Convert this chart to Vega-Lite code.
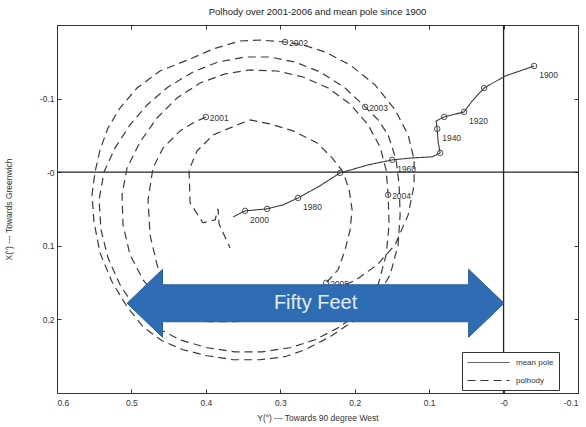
{
  "$schema": "https://vega.github.io/schema/vega-lite/v6.json",
  "width": 521,
  "height": 368,
  "autosize": {"type": "none"},
  "padding": {"left": 57, "top": 25, "right": 8, "bottom": 34},
  "title": {"text": "Polhody over 2001-2006 and mean pole since 1900", "fontSize": 9.5, "fontWeight": "normal", "font": "Liberation Sans", "color": "#222", "offset": 8, "anchor": "middle"},
  "config": {
    "view": {"stroke": "#333", "strokeWidth": 1},
    "font": "Liberation Sans",
    "axis": {"labelFont": "Liberation Sans", "labelFontSize": 8.5, "labelColor": "#333", "titleFont": "Liberation Sans", "titleFontSize": 8.5, "titleFontWeight": "normal", "titleColor": "#333", "domainColor": "#333", "tickColor": "#333", "grid": false, "tickSize": -4},
    "legend": {"orient": "none", "legendX": 405, "legendY": 327, "strokeColor": "#333", "fillColor": "white", "padding": 5, "cornerRadius": 0, "labelFont": "Liberation Sans", "labelFontSize": 8, "labelColor": "#333", "symbolType": "M-1,0L7.4,0", "symbolSize": 100, "symbolStrokeWidth": 1, "symbolStrokeColor": "#333", "rowPadding": 8, "labelOffset": 38, "title": null,
      "labelExpr": "datum.label + '\u00a0\u00a0\u00a0\u00a0\u00a0\u00a0\u00a0\u00a0\u00a0\u00a0\u00a0\u00a0\u00a0\u00a0'"}
  },
  "datasets": {
    "zero": [{"v": 0}],
    "polhody": [
      {"t": 1, "x": 0.400, "y": -0.075, "yr": "2001", "series": "polhody"},
      {"t": 2, "x": 0.4172, "y": -0.0669, "series": "polhody"},
      {"t": 3, "x": 0.4347, "y": -0.0561, "series": "polhody"},
      {"t": 4, "x": 0.4575, "y": -0.0330, "series": "polhody"},
      {"t": 5, "x": 0.4710, "y": -0.0058, "series": "polhody"},
      {"t": 6, "x": 0.4777, "y": 0.0376, "series": "polhody"},
      {"t": 7, "x": 0.4750, "y": 0.0851, "series": "polhody"},
      {"t": 8, "x": 0.4656, "y": 0.1258, "series": "polhody"},
      {"t": 9, "x": 0.4535, "y": 0.1598, "series": "polhody"},
      {"t": 10, "x": 0.4320, "y": 0.1774, "series": "polhody"},
      {"t": 11, "x": 0.4011, "y": 0.1869, "series": "polhody"},
      {"t": 12, "x": 0.3608, "y": 0.1897, "series": "polhody"},
      {"t": 13, "x": 0.3204, "y": 0.1869, "series": "polhody"},
      {"t": 14, "x": 0.2734, "y": 0.1761, "series": "polhody"},
      {"t": 15, "x": 0.2331, "y": 0.1625, "series": "polhody"},
      {"t": 16, "x": 0.1981, "y": 0.1462, "series": "polhody"},
      {"t": 17, "x": 0.1699, "y": 0.1258, "series": "polhody"},
      {"t": 18, "x": 0.1457, "y": 0.0987, "series": "polhody"},
      {"t": 19, "x": 0.1282, "y": 0.0580, "series": "polhody"},
      {"t": 20, "x": 0.1202, "y": 0.0172, "series": "polhody"},
      {"t": 21, "x": 0.1202, "y": -0.0167, "series": "polhody"},
      {"t": 22, "x": 0.1282, "y": -0.0506, "series": "polhody"},
      {"t": 23, "x": 0.1457, "y": -0.0846, "series": "polhody"},
      {"t": 24, "x": 0.1726, "y": -0.1185, "series": "polhody"},
      {"t": 25, "x": 0.2062, "y": -0.1457, "series": "polhody"},
      {"t": 26, "x": 0.2398, "y": -0.1633, "series": "polhody"},
      {"t": 27, "x": 0.2694, "y": -0.1728, "series": "polhody"},
      {"t": 28, "x": 0.2935, "y": -0.1769, "yr": "2002", "series": "polhody"},
      {"t": 29, "x": 0.3272, "y": -0.1796, "series": "polhody"},
      {"t": 30, "x": 0.3540, "y": -0.1783, "series": "polhody"},
      {"t": 31, "x": 0.3903, "y": -0.1674, "series": "polhody"},
      {"t": 32, "x": 0.4212, "y": -0.1538, "series": "polhody"},
      {"t": 33, "x": 0.4616, "y": -0.1375, "series": "polhody"},
      {"t": 34, "x": 0.4925, "y": -0.1144, "series": "polhody"},
      {"t": 35, "x": 0.5153, "y": -0.0873, "series": "polhody"},
      {"t": 36, "x": 0.5315, "y": -0.0601, "series": "polhody"},
      {"t": 37, "x": 0.5422, "y": -0.0303, "series": "polhody"},
      {"t": 38, "x": 0.5489, "y": -0.0004, "series": "polhody"},
      {"t": 39, "x": 0.5530, "y": 0.0308, "series": "polhody"},
      {"t": 40, "x": 0.5503, "y": 0.0675, "series": "polhody"},
      {"t": 41, "x": 0.5422, "y": 0.1096, "series": "polhody"},
      {"t": 42, "x": 0.5261, "y": 0.1489, "series": "polhody"},
      {"t": 43, "x": 0.5059, "y": 0.1829, "series": "polhody"},
      {"t": 44, "x": 0.4844, "y": 0.2100, "series": "polhody"},
      {"t": 45, "x": 0.4589, "y": 0.2290, "series": "polhody"},
      {"t": 46, "x": 0.4306, "y": 0.2412, "series": "polhody"},
      {"t": 47, "x": 0.3984, "y": 0.2494, "series": "polhody"},
      {"t": 48, "x": 0.3634, "y": 0.2548, "series": "polhody"},
      {"t": 49, "x": 0.3272, "y": 0.2548, "series": "polhody"},
      {"t": 50, "x": 0.2935, "y": 0.2507, "series": "polhody"},
      {"t": 51, "x": 0.2667, "y": 0.2412, "series": "polhody"},
      {"t": 52, "x": 0.2331, "y": 0.2236, "series": "polhody"},
      {"t": 53, "x": 0.1995, "y": 0.2005, "series": "polhody"},
      {"t": 54, "x": 0.1726, "y": 0.1734, "series": "polhody"},
      {"t": 55, "x": 0.1524, "y": 0.1394, "series": "polhody"},
      {"t": 56, "x": 0.1417, "y": 0.0987, "series": "polhody"},
      {"t": 57, "x": 0.1390, "y": 0.0580, "series": "polhody"},
      {"t": 58, "x": 0.1403, "y": 0.0172, "series": "polhody"},
      {"t": 59, "x": 0.1444, "y": -0.0167, "series": "polhody"},
      {"t": 60, "x": 0.1551, "y": -0.0506, "series": "polhody"},
      {"t": 61, "x": 0.1685, "y": -0.0710, "series": "polhody"},
      {"t": 62, "x": 0.1860, "y": -0.0887, "yr": "2003", "series": "polhody"},
      {"t": 63, "x": 0.2129, "y": -0.1144, "series": "polhody"},
      {"t": 64, "x": 0.2465, "y": -0.1362, "series": "polhody"},
      {"t": 65, "x": 0.2801, "y": -0.1497, "series": "polhody"},
      {"t": 66, "x": 0.3137, "y": -0.1565, "series": "polhody"},
      {"t": 67, "x": 0.3473, "y": -0.1565, "series": "polhody"},
      {"t": 68, "x": 0.3836, "y": -0.1497, "series": "polhody"},
      {"t": 69, "x": 0.4172, "y": -0.1362, "series": "polhody"},
      {"t": 70, "x": 0.4508, "y": -0.1158, "series": "polhody"},
      {"t": 71, "x": 0.4790, "y": -0.0914, "series": "polhody"},
      {"t": 72, "x": 0.5019, "y": -0.0642, "series": "polhody"},
      {"t": 73, "x": 0.5220, "y": -0.0330, "series": "polhody"},
      {"t": 74, "x": 0.5368, "y": -0.0004, "series": "polhody"},
      {"t": 75, "x": 0.5435, "y": 0.0376, "series": "polhody"},
      {"t": 76, "x": 0.5409, "y": 0.0783, "series": "polhody"},
      {"t": 77, "x": 0.5315, "y": 0.1163, "series": "polhody"},
      {"t": 78, "x": 0.5153, "y": 0.1530, "series": "polhody"},
      {"t": 79, "x": 0.4952, "y": 0.1842, "series": "polhody"},
      {"t": 80, "x": 0.4683, "y": 0.2100, "series": "polhody"},
      {"t": 81, "x": 0.4347, "y": 0.2277, "series": "polhody"},
      {"t": 82, "x": 0.3984, "y": 0.2385, "series": "polhody"},
      {"t": 83, "x": 0.3608, "y": 0.2440, "series": "polhody"},
      {"t": 84, "x": 0.3245, "y": 0.2440, "series": "polhody"},
      {"t": 85, "x": 0.2868, "y": 0.2385, "series": "polhody"},
      {"t": 86, "x": 0.2532, "y": 0.2277, "series": "polhody"},
      {"t": 87, "x": 0.2196, "y": 0.2100, "series": "polhody"},
      {"t": 88, "x": 0.1901, "y": 0.1869, "series": "polhody"},
      {"t": 89, "x": 0.1685, "y": 0.1530, "series": "polhody"},
      {"t": 90, "x": 0.1578, "y": 0.1123, "series": "polhody"},
      {"t": 91, "x": 0.1538, "y": 0.0715, "series": "polhody"},
      {"t": 92, "x": 0.1551, "y": 0.0308, "yr": "2004", "series": "polhody"},
      {"t": 93, "x": 0.1578, "y": -0.0031, "series": "polhody"},
      {"t": 94, "x": 0.1659, "y": -0.0343, "series": "polhody"},
      {"t": 95, "x": 0.1820, "y": -0.0642, "series": "polhody"},
      {"t": 96, "x": 0.2062, "y": -0.0927, "series": "polhody"},
      {"t": 97, "x": 0.2358, "y": -0.1144, "series": "polhody"},
      {"t": 98, "x": 0.2694, "y": -0.1294, "series": "polhody"},
      {"t": 99, "x": 0.3043, "y": -0.1375, "series": "polhody"},
      {"t": 100, "x": 0.3406, "y": -0.1389, "series": "polhody"},
      {"t": 101, "x": 0.3742, "y": -0.1335, "series": "polhody"},
      {"t": 102, "x": 0.4078, "y": -0.1212, "series": "polhody"},
      {"t": 103, "x": 0.4387, "y": -0.1009, "series": "polhody"},
      {"t": 104, "x": 0.4656, "y": -0.0737, "series": "polhody"},
      {"t": 105, "x": 0.4884, "y": -0.0411, "series": "polhody"},
      {"t": 106, "x": 0.5059, "y": -0.0058, "series": "polhody"},
      {"t": 107, "x": 0.5126, "y": 0.0308, "series": "polhody"},
      {"t": 108, "x": 0.5113, "y": 0.0715, "series": "polhody"},
      {"t": 109, "x": 0.5019, "y": 0.1123, "series": "polhody"},
      {"t": 110, "x": 0.4844, "y": 0.1462, "series": "polhody"},
      {"t": 111, "x": 0.4616, "y": 0.1734, "series": "polhody"},
      {"t": 112, "x": 0.4320, "y": 0.1937, "series": "polhody"},
      {"t": 113, "x": 0.3970, "y": 0.2032, "series": "polhody"},
      {"t": 114, "x": 0.3608, "y": 0.2032, "series": "polhody"},
      {"t": 115, "x": 0.3245, "y": 0.1978, "series": "polhody"},
      {"t": 116, "x": 0.2868, "y": 0.1802, "series": "polhody"},
      {"t": 117, "x": 0.2599, "y": 0.1639, "series": "polhody"},
      {"t": 118, "x": 0.2384, "y": 0.1503, "yr": "2005", "series": "polhody"},
      {"t": 119, "x": 0.2223, "y": 0.1326, "series": "polhody"},
      {"t": 120, "x": 0.2129, "y": 0.1055, "series": "polhody"},
      {"t": 121, "x": 0.2062, "y": 0.0783, "series": "polhody"},
      {"t": 122, "x": 0.2035, "y": 0.0512, "series": "polhody"},
      {"t": 123, "x": 0.2075, "y": 0.0240, "series": "polhody"},
      {"t": 124, "x": 0.2156, "y": -0.0004, "series": "polhody"},
      {"t": 125, "x": 0.2304, "y": -0.0194, "series": "polhody"},
      {"t": 126, "x": 0.2505, "y": -0.0398, "series": "polhody"},
      {"t": 127, "x": 0.2828, "y": -0.0561, "series": "polhody"},
      {"t": 128, "x": 0.3137, "y": -0.0656, "series": "polhody"},
      {"t": 129, "x": 0.3406, "y": -0.0710, "series": "polhody"},
      {"t": 130, "x": 0.3581, "y": -0.0641, "series": "polhody"},
      {"t": 131, "x": 0.3903, "y": -0.0506, "series": "polhody"},
      {"t": 132, "x": 0.4118, "y": -0.0289, "series": "polhody"},
      {"t": 133, "x": 0.4226, "y": -0.0031, "series": "polhody"},
      {"t": 134, "x": 0.4212, "y": 0.0417, "series": "polhody"},
      {"t": 135, "x": 0.4038, "y": 0.0688, "series": "polhody"},
      {"t": 136, "x": 0.3876, "y": 0.0648, "series": "polhody"},
      {"t": 137, "x": 0.3836, "y": 0.0498, "series": "polhody"},
      {"t": 138, "x": 0.3823, "y": 0.0702, "series": "polhody"},
      {"t": 139, "x": 0.3675, "y": 0.1028, "series": "polhody"}
    ],
    "meanpole": [
      {"year": 1900, "x": -0.0411, "y": -0.1443, "series": "mean pole"},
      {"year": 1905, "x": -0.0022, "y": -0.1307, "series": "mean pole"},
      {"year": 1910, "x": 0.0261, "y": -0.1144, "series": "mean pole"},
      {"year": 1915, "x": 0.0422, "y": -0.0968, "series": "mean pole"},
      {"year": 1920, "x": 0.0530, "y": -0.0819, "series": "mean pole"},
      {"year": 1925, "x": 0.0691, "y": -0.0778, "series": "mean pole"},
      {"year": 1930, "x": 0.0798, "y": -0.0751, "series": "mean pole"},
      {"year": 1935, "x": 0.0906, "y": -0.0696, "series": "mean pole"},
      {"year": 1940, "x": 0.0892, "y": -0.0588, "series": "mean pole"},
      {"year": 1945, "x": 0.0879, "y": -0.0411, "series": "mean pole"},
      {"year": 1950, "x": 0.0852, "y": -0.0262, "series": "mean pole"},
      {"year": 1953, "x": 0.0960, "y": -0.0208, "series": "mean pole"},
      {"year": 1957, "x": 0.1228, "y": -0.0194, "series": "mean pole"},
      {"year": 1960, "x": 0.1497, "y": -0.0167, "series": "mean pole"},
      {"year": 1965, "x": 0.1820, "y": -0.0099, "series": "mean pole"},
      {"year": 1970, "x": 0.2196, "y": 0.0010, "series": "mean pole"},
      {"year": 1975, "x": 0.2492, "y": 0.0200, "series": "mean pole"},
      {"year": 1980, "x": 0.2761, "y": 0.0349, "series": "mean pole"},
      {"year": 1985, "x": 0.2962, "y": 0.0444, "series": "mean pole"},
      {"year": 1990, "x": 0.3177, "y": 0.0498, "series": "mean pole"},
      {"year": 1995, "x": 0.3325, "y": 0.0512, "series": "mean pole"},
      {"year": 2000, "x": 0.3473, "y": 0.0525, "series": "mean pole"},
      {"year": 2003, "x": 0.3634, "y": 0.0607, "series": "mean pole"}
    ],
    "arrow": [
      {"label": "Fifty Feet", "x": 0.2526, "y": 0.1781}
    ]
  },
  "layer": [
    {
      "data": {"name": "zero"},
      "mark": {"type": "rule", "color": "#222", "strokeWidth": 1.3},
      "encoding": {"y": {"field": "v", "type": "quantitative", "axis": null}}
    },
    {
      "data": {"name": "zero"},
      "mark": {"type": "rule", "color": "#222", "strokeWidth": 1.3},
      "encoding": {"x": {"field": "v", "type": "quantitative", "axis": null}}
    },
    {
      "data": {"name": "polhody"},
      "mark": {"type": "line", "color": "#3c3c3c", "strokeWidth": 1.2},
      "encoding": {
        "x": {"field": "x", "type": "quantitative", "scale": {"domain": [-0.1, 0.6], "reverse": true, "nice": false, "zero": false},
          "axis": {"orient": "bottom", "values": [0.6, 0.5, 0.4, 0.3, 0.2, 0.1, 0, -0.1], "title": "Y(\") --- Towards 90 degree West", "labelPadding": 9, "titlePadding": 7,
            "labelExpr": "datum.value == 0 ? '-0' : (datum.value < 0 ? '-' + format(-datum.value, '.1f') : format(datum.value, '.1f'))"}},
        "y": {"field": "y", "type": "quantitative", "scale": {"domain": [-0.2, 0.3], "reverse": true, "nice": false, "zero": false},
          "axis": {"orient": "left", "values": [-0.1, 0, 0.1, 0.2], "title": "X(\") --- Towards Greenwich", "labelPadding": 7, "titlePadding": 26,
            "labelExpr": "datum.value == 0 ? '-0' : (datum.value < 0 ? '-' + format(-datum.value, '.1f') : format(datum.value, '.1f'))"}},
        "order": {"field": "t", "type": "quantitative"},
        "strokeDash": {"field": "series", "type": "nominal", "scale": {"domain": ["mean pole", "polhody"], "range": [[1, 0], [8, 5]]}}
      }
    },
    {
      "data": {"name": "meanpole"},
      "mark": {"type": "line", "color": "#3c3c3c", "strokeWidth": 1.1},
      "encoding": {
        "x": {"field": "x", "type": "quantitative", "axis": null},
        "y": {"field": "y", "type": "quantitative", "axis": null},
        "order": {"field": "year", "type": "quantitative"},
        "strokeDash": {"field": "series", "type": "nominal"}
      }
    },
    {
      "data": {"name": "meanpole"},
      "transform": [{"filter": "datum.year % 10 == 0"}],
      "mark": {"type": "point", "shape": "circle", "filled": false, "size": 30, "color": "#3c3c3c", "strokeWidth": 0.9, "opacity": 1},
      "encoding": {
        "x": {"field": "x", "type": "quantitative", "axis": {"orient": "top", "values": [0.6, 0.5, 0.4, 0.3, 0.2, 0.1, 0, -0.1], "labels": false, "title": null, "domain": false}},
        "y": {"field": "y", "type": "quantitative", "axis": {"orient": "right", "values": [-0.1, 0, 0.1, 0.2], "labels": false, "title": null, "domain": false}}
      }
    },
    {
      "data": {"name": "meanpole"},
      "transform": [{"filter": "datum.year % 20 == 0"}],
      "mark": {"type": "text", "align": "left", "baseline": "middle", "dx": 5, "dy": 9, "fontSize": 8.5, "color": "#333", "font": "Liberation Sans"},
      "encoding": {
        "x": {"field": "x", "type": "quantitative", "axis": null},
        "y": {"field": "y", "type": "quantitative", "axis": null},
        "text": {"field": "year", "type": "nominal"}
      }
    },
    {
      "data": {"name": "polhody"},
      "transform": [{"filter": "datum.yr"}],
      "mark": {"type": "point", "shape": "circle", "filled": false, "size": 30, "color": "#3c3c3c", "strokeWidth": 0.9, "opacity": 1},
      "encoding": {
        "x": {"field": "x", "type": "quantitative", "axis": null},
        "y": {"field": "y", "type": "quantitative", "axis": null}
      }
    },
    {
      "data": {"name": "polhody"},
      "transform": [{"filter": "datum.yr"}],
      "mark": {"type": "text", "align": "left", "baseline": "middle", "dx": 4, "dy": 1, "fontSize": 8.5, "color": "#333", "font": "Liberation Sans"},
      "encoding": {
        "x": {"field": "x", "type": "quantitative", "axis": null},
        "y": {"field": "y", "type": "quantitative", "axis": null},
        "text": {"field": "yr", "type": "nominal"}
      }
    },
    {
      "data": {"name": "arrow"},
      "mark": {"type": "point", "shape": "M-1,0L-0.812,-0.18L-0.812,-0.098L0.812,-0.098L0.812,-0.18L1,0L0.812,0.18L0.812,0.098L-0.812,0.098L-0.812,0.18Z", "filled": true, "color": "#2e6db4", "stroke": "#265d9c", "strokeWidth": 1, "size": 142129, "opacity": 1},
      "encoding": {
        "x": {"field": "x", "type": "quantitative", "axis": null},
        "y": {"field": "y", "type": "quantitative", "axis": null}
      }
    },
    {
      "data": {"name": "arrow"},
      "mark": {"type": "text", "align": "center", "baseline": "middle", "fontSize": 20, "color": "#e3ecf7", "font": "Liberation Sans"},
      "encoding": {
        "x": {"field": "x", "type": "quantitative", "axis": null},
        "y": {"field": "y", "type": "quantitative", "axis": null},
        "text": {"field": "label", "type": "nominal"}
      }
    }
  ],
  "resolve": {"axis": {"x": "independent", "y": "independent"}}
}
